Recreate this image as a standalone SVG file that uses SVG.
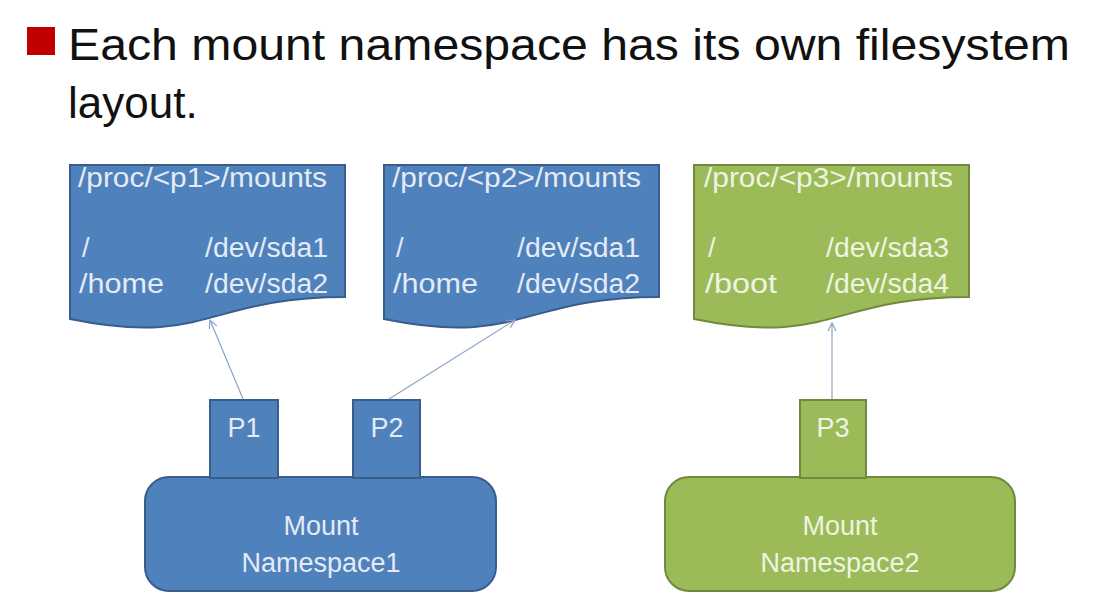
<svg xmlns="http://www.w3.org/2000/svg" width="1108" height="605" viewBox="0 0 1108 605">
<style>
.title{font-family:"Liberation Sans",Arial,sans-serif;font-size:44px;fill:#111}
.t{font-family:"Liberation Sans",Arial,sans-serif;font-size:27px}
.c{text-anchor:middle}
.blue{fill:#4f81bd;stroke:#385d8a;stroke-width:2}
.green{fill:#9bbb59;stroke:#71893f;stroke-width:2}
.bt{fill:#e4ebf5}
.gt{fill:#eef3e2}
.conn{stroke:#8aa3c6;stroke-width:1.2;fill:none;marker-end:url(#ah)}
</style>
<defs>
<marker id="ah" markerWidth="10" markerHeight="10" refX="9" refY="5" orient="auto" markerUnits="userSpaceOnUse">
<path d="M1,1 L9,5 L1,9" fill="none" stroke="#8aa3c6" stroke-width="1.2"/>
</marker>
</defs>
<rect width="1108" height="605" fill="#ffffff"/>
<g id="title">
<rect x="27" y="27" width="28" height="28" fill="#c00000"/>
<text class="title" x="68" y="60" textLength="1002" lengthAdjust="spacingAndGlyphs">Each mount namespace has its own filesystem</text>
<text class="title" x="68" y="118">layout.</text>
</g>
<g id="doc1">
<path class="blue" d="M70,165 H345 V297 C207.5,297 207.5,347 70,319 Z"/>
<text class="t bt" x="78" y="187" textLength="249" lengthAdjust="spacingAndGlyphs">/proc/&lt;p1&gt;/mounts</text>
<text class="t bt" x="82" y="257">/</text>
<text class="t bt" x="205" y="257" textLength="123" lengthAdjust="spacingAndGlyphs">/dev/sda1</text>
<text class="t bt" x="79" y="293" textLength="85" lengthAdjust="spacingAndGlyphs">/home</text>
<text class="t bt" x="205" y="293" textLength="123" lengthAdjust="spacingAndGlyphs">/dev/sda2</text>
</g>
<g id="doc2">
<path class="blue" d="M384,165 H659 V297 C521.5,297 521.5,347 384,319 Z"/>
<text class="t bt" x="392" y="187" textLength="249" lengthAdjust="spacingAndGlyphs">/proc/&lt;p2&gt;/mounts</text>
<text class="t bt" x="396" y="257">/</text>
<text class="t bt" x="517" y="257" textLength="123" lengthAdjust="spacingAndGlyphs">/dev/sda1</text>
<text class="t bt" x="393" y="293" textLength="85" lengthAdjust="spacingAndGlyphs">/home</text>
<text class="t bt" x="517" y="293" textLength="123" lengthAdjust="spacingAndGlyphs">/dev/sda2</text>
</g>
<g id="doc3">
<path class="green" d="M694,165 H969 V297 C831.5,297 831.5,347 694,319 Z"/>
<text class="t gt" x="704" y="187" textLength="249" lengthAdjust="spacingAndGlyphs">/proc/&lt;p3&gt;/mounts</text>
<text class="t gt" x="708" y="257">/</text>
<text class="t gt" x="826" y="257" textLength="123" lengthAdjust="spacingAndGlyphs">/dev/sda3</text>
<text class="t gt" x="705" y="293" textLength="72" lengthAdjust="spacingAndGlyphs">/boot</text>
<text class="t gt" x="826" y="293" textLength="123" lengthAdjust="spacingAndGlyphs">/dev/sda4</text>
</g>
<g id="ns1">
<rect class="blue" x="145" y="477" width="351" height="114" rx="24"/>
<text class="t bt c" x="321" y="535">Mount</text>
<text class="t bt c" x="321" y="572">Namespace1</text>
</g>
<g id="p1">
<rect class="blue" x="210" y="400" width="68" height="78"/>
<text class="t bt c" x="244" y="437">P1</text>
</g>
<g id="p2">
<rect class="blue" x="353" y="400" width="67" height="78"/>
<text class="t bt c" x="387" y="437">P2</text>
</g>
<g id="ns2">
<rect class="green" x="665" y="477" width="350" height="114" rx="24"/>
<text class="t gt c" x="840" y="535">Mount</text>
<text class="t gt c" x="840" y="572">Namespace2</text>
</g>
<g id="p3">
<rect class="green" x="800" y="400" width="66" height="78"/>
<text class="t gt c" x="833" y="437">P3</text>
</g>
<g id="connectors">
<line class="conn" x1="243" y1="399" x2="210" y2="320"/>
<line class="conn" x1="389" y1="399" x2="515" y2="320"/>
<line class="conn" x1="832" y1="399" x2="832" y2="323"/>
</g>
</svg>
